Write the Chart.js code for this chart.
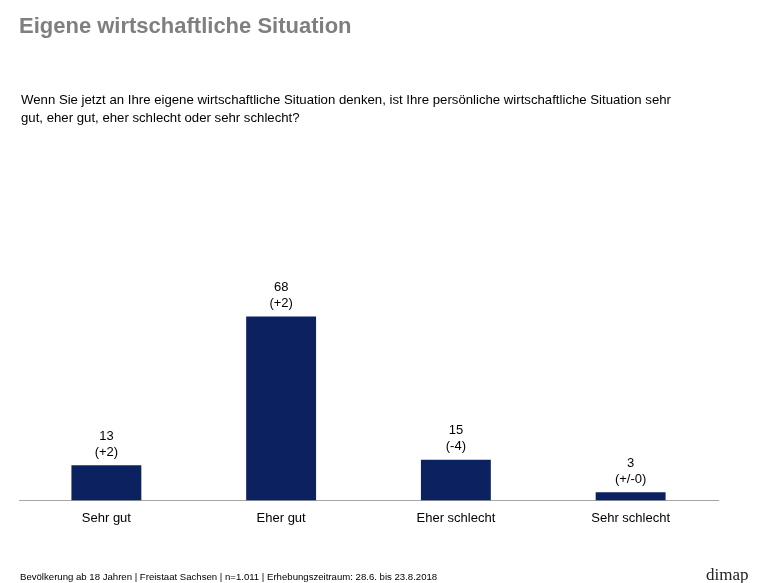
<!DOCTYPE html>
<html>
<head>
<meta charset="utf-8">
<script src="https://cdn.jsdelivr.net/npm/chart.js@4"></script>
<style>
  html, body { margin: 0; padding: 0; background: #ffffff; }
  body { width: 780px; height: 583px; position: relative; overflow: hidden; font-family: "Liberation Sans", Arial, sans-serif; }
  #title { position: absolute; left: 19px; top: 15px; font-size: 22px; line-height: 22px; font-weight: bold; color: #7f7f7f; white-space: nowrap; }
  #question { position: absolute; left: 21px; top: 91px; width: 700px; font-size: 13.2px; line-height: 17.6px; color: #000; }
  #footer { position: absolute; left: 20px; top: 572px; font-size: 9.6px; line-height: 10px; color: #000; white-space: nowrap; }
  #logo { position: absolute; left: 706px; top: 566px; font-family: "Liberation Serif", "DejaVu Serif", serif; font-size: 17px; line-height: 17px; color: #222; }
  #wrap { position: absolute; left: 0; top: 0; width: 780px; height: 583px; }
</style>
</head>
<body>
<div id="wrap"><canvas id="c" width="780" height="583"></canvas></div>
<div id="title">Eigene wirtschaftliche Situation</div>
<div id="question">Wenn Sie jetzt an Ihre eigene wirtschaftliche Situation denken, ist Ihre persönliche wirtschaftliche Situation sehr<br>gut, eher gut, eher schlecht oder sehr schlecht?</div>
<div id="footer">Bevölkerung ab 18 Jahren | Freistaat Sachsen | n=1.011 | Erhebungszeitraum: 28.6. bis 23.8.2018</div>
<div id="logo">dimap</div>
<script>
const categories = ["Sehr gut", "Eher gut", "Eher schlecht", "Sehr schlecht"];
const values = [13, 68, 15, 3];
const changes = ["(+2)", "(+2)", "(-4)", "(+/-0)"];

const valueLabels = {
  id: "valueLabels",
  afterDatasetsDraw(chart) {
    const ctx = chart.ctx;
    const meta = chart.getDatasetMeta(0);
    ctx.save();
    ctx.font = '13px "Liberation Sans", Arial, sans-serif';
    ctx.fillStyle = "#000";
    ctx.textAlign = "center";
    ctx.textBaseline = "middle";
    meta.data.forEach((bar, i) => {
      ctx.fillText(String(values[i]), bar.x, bar.y - 29);
      ctx.fillText(changes[i], bar.x, bar.y - 13);
    });
    ctx.restore();
  }
};

new Chart(document.getElementById("c"), {
  type: "bar",
  data: {
    labels: categories,
    datasets: [{
      data: values,
      backgroundColor: "#0c2160",
      barPercentage: 0.4,
      categoryPercentage: 1.0
    }]
  },
  options: {
    responsive: false,
    animation: false,
    layout: { padding: { left: 19, right: 62, top: 230, bottom: 47 } },
    plugins: { legend: { display: false }, tooltip: { enabled: false }, title: { display: false } },
    scales: {
      x: {
        grid: { display: false, drawTicks: false },
        border: { display: true, color: "#a6a6a6", width: 1 },
        ticks: { color: "#000", padding: 10, font: { family: '"Liberation Sans", Arial, sans-serif', size: 13 } }
      },
      y: {
        display: false,
        min: 0,
        max: 100
      }
    }
  },
  plugins: [valueLabels]
});
</script>
</body>
</html>
